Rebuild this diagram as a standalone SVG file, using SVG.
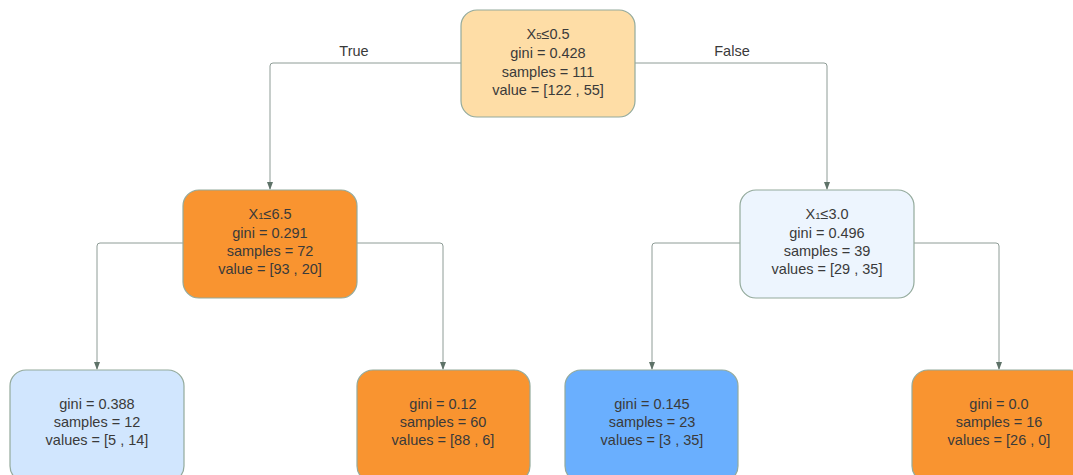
<svg xmlns="http://www.w3.org/2000/svg" width="1073" height="475" viewBox="0 0 1073 475">
  <style>
    .node rect { stroke: #93AA9C; stroke-width: 1.2; }
    .node text, .label { font-family: "Liberation Sans", Arial, sans-serif; font-size: 14.5px; fill: #3A3A3A; text-anchor: middle; }
    .sub { font-size: 9.5px; }
    .edge { fill: none; stroke: #8E9C96; stroke-width: 1; }
  </style>
  <defs>
    <marker id="arrow" viewBox="0 0 8 8" refX="7" refY="4" markerWidth="8" markerHeight="8" orient="auto" markerUnits="userSpaceOnUse">
      <path d="M0,1 L8,4 L0,7 Z" fill="#5E7268"/>
    </marker>
  </defs>
  <rect width="1073" height="475" fill="#FFFFFF"/>

  <!-- connectors -->
  <g id="connectors">
    <path class="edge" d="M461,63 H273 Q270,63 270,66 V189" marker-end="url(#arrow)"/>
    <path class="edge" d="M635,63 H824 Q827,63 827,66 V189" marker-end="url(#arrow)"/>
    <path class="edge" d="M183,243 H100 Q97,243 97,246 V369" marker-end="url(#arrow)"/>
    <path class="edge" d="M357,243 H440 Q443,243 443,246 V369" marker-end="url(#arrow)"/>
    <path class="edge" d="M740,243 H655 Q652,243 652,246 V369" marker-end="url(#arrow)"/>
    <path class="edge" d="M914,243 H996 Q999,243 999,246 V369" marker-end="url(#arrow)"/>
    <text class="label" x="354" y="56">True</text>
    <text class="label" x="732" y="56">False</text>
  </g>

  <g id="root" class="node">
    <rect x="461" y="10" width="174" height="107" rx="16" fill="#FEDDA6"/>
    <text x="548" y="39">X<tspan class="sub">5</tspan>≤0.5</text>
    <text x="548" y="58">gini = 0.428</text>
    <text x="548" y="77">samples = 111</text>
    <text x="548" y="95">value = [122 , 55]</text>
  </g>

  <g id="left" class="node">
    <rect x="183" y="190" width="174" height="108" rx="16" fill="#F99430"/>
    <text x="270" y="219">X<tspan class="sub">1</tspan>≤6.5</text>
    <text x="270" y="238">gini = 0.291</text>
    <text x="270" y="256">samples = 72</text>
    <text x="270" y="274">value = [93 , 20]</text>
  </g>

  <g id="right" class="node">
    <rect x="740" y="190" width="174" height="108" rx="16" fill="#EDF5FE"/>
    <text x="827" y="219">X<tspan class="sub">1</tspan>≤3.0</text>
    <text x="827" y="238">gini = 0.496</text>
    <text x="827" y="256">samples = 39</text>
    <text x="827" y="274">values = [29 , 35]</text>
  </g>

  <g id="leaf-ll" class="node">
    <rect x="10" y="370" width="174" height="112" rx="16" fill="#D1E6FE"/>
    <text x="97" y="409">gini = 0.388</text>
    <text x="97" y="427">samples = 12</text>
    <text x="97" y="445">values = [5 , 14]</text>
  </g>

  <g id="leaf-lr" class="node">
    <rect x="357" y="370" width="173" height="112" rx="16" fill="#F99430"/>
    <text x="443" y="409">gini = 0.12</text>
    <text x="443" y="427">samples = 60</text>
    <text x="443" y="445">values = [88 , 6]</text>
  </g>

  <g id="leaf-rl" class="node">
    <rect x="565" y="370" width="173" height="112" rx="16" fill="#6AAFFE"/>
    <text x="652" y="409">gini = 0.145</text>
    <text x="652" y="427">samples = 23</text>
    <text x="652" y="445">values = [3 , 35]</text>
  </g>

  <g id="leaf-rr" class="node">
    <rect x="912" y="370" width="174" height="112" rx="16" fill="#F99430"/>
    <text x="999" y="409">gini = 0.0</text>
    <text x="999" y="427">samples = 16</text>
    <text x="999" y="445">values = [26 , 0]</text>
  </g>
</svg>
